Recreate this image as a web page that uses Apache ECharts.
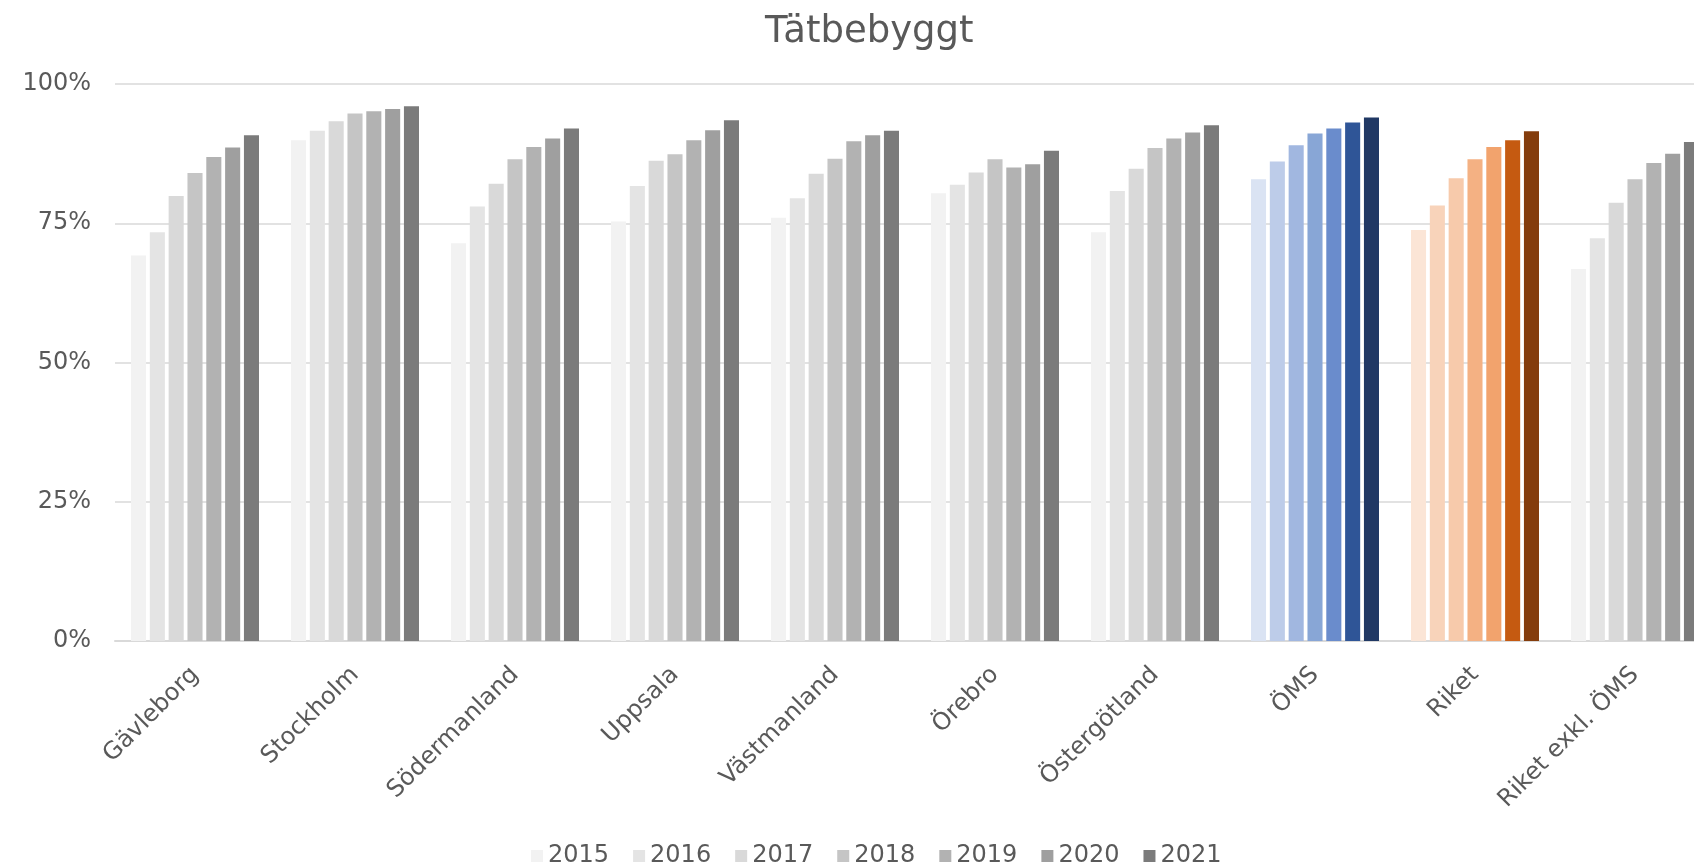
<!DOCTYPE html>
<html>
<head>
<meta charset="utf-8">
<script src="https://cdn.jsdelivr.net/npm/echarts@6/dist/echarts.min.js"></script>
<style>
html,body{margin:0;padding:0;background:#fff;overflow:hidden;width:1694px;height:863px;}
#chart{width:1760px;height:863px;}
</style>
</head>
<body>
<div id="chart"></div>
<script>
const title = 'Tätbebyggt';
const categories = ['Gävleborg','Stockholm','Södermanland','Uppsala','Västmanland','Örebro','Östergötland','ÖMS','Riket','Riket exkl. ÖMS'];
const years = ['2015','2016','2017','2018','2019','2020','2021'];
const v2015 = [69.2, 89.9, 71.4, 75.3, 76.0, 80.4, 73.4, 82.9, 73.8, 66.8];
const v2016 = [73.4, 91.6, 78.0, 81.7, 79.5, 81.9, 80.8, 86.1, 78.2, 72.3];
const v2017 = [79.9, 93.3, 82.1, 86.2, 83.9, 84.1, 84.8, 89.0, 83.1, 78.7];
const v2018 = [84.0, 94.7, 86.5, 87.4, 86.6, 86.5, 88.5, 91.1, 86.5, 82.9];
const v2019 = [86.9, 95.1, 88.7, 89.9, 89.7, 85.0, 90.2, 92.0, 88.7, 85.8];
const v2020 = [88.6, 95.5, 90.2, 91.7, 90.8, 85.6, 91.3, 93.1, 89.9, 87.5];
const v2021 = [90.8, 96.0, 92.0, 93.5, 91.6, 88.0, 92.6, 94.0, 91.5, 89.6];
const yTicks = [0, 25, 50, 75, 100];

const grayColors = ['#F2F2F2','#E4E4E4','#D9D9D9','#C5C5C5','#B2B2B2','#9F9F9F','#7B7B7B'];
const blueColors = ['#DAE3F3','#BDCCE9','#A1B7E0','#88A6D6','#6A8CCC','#2F5597','#203864'];
const orangeColors = ['#FBE5D6','#F8D3BA','#F7CAAB','#F4B183','#F2A36D','#C55A11','#843C0C'];
const seriesValues = [v2015, v2016, v2017, v2018, v2019, v2020, v2021];

const FONT = 'DejaVu Sans';
const TXT = '#595959';

const series = years.map((y, s) => ({
  name: y,
  type: 'bar',
  barCategoryGap: '20%',
  barGap: '25%',
  itemStyle: { color: grayColors[s] },
  data: seriesValues[s].map((v, i) => {
    if (categories[i] === 'ÖMS') return { value: v, itemStyle: { color: blueColors[s] } };
    if (categories[i] === 'Riket') return { value: v, itemStyle: { color: orangeColors[s] } };
    return v;
  })
}));

const chart = echarts.init(document.getElementById('chart'), null, { renderer: 'canvas' });
chart.setOption({
  animation: false,
  backgroundColor: '#fff',
  textStyle: { fontFamily: FONT },
  title: {
    text: title,
    left: 765,
    top: 14,
    padding: 0,
    textStyle: { fontFamily: FONT, fontSize: 37, fontWeight: 'normal', color: TXT }
  },
  legend: {
    data: years,
    left: 531,
    top: 844,
    padding: 0,
    icon: 'rect',
    itemWidth: 12,
    itemHeight: 12,
    itemGap: 24,
    textStyle: { fontFamily: FONT, fontSize: 24, color: TXT }
  },
  grid: { left: 115, top: 84, width: 1600, height: 557, containLabel: false },
  xAxis: {
    type: 'category',
    data: categories,
    axisLine: { show: true, lineStyle: { color: '#D9D9D9', width: 2 } },
    axisTick: { show: false },
    axisLabel: {
      rotate: 45,
      interval: 0,
      margin: 30,
      fontFamily: FONT,
      fontSize: 24,
      color: TXT
    }
  },
  yAxis: {
    type: 'value',
    min: yTicks[0],
    max: yTicks[yTicks.length - 1],
    interval: yTicks[1] - yTicks[0],
    axisLine: { show: false },
    axisTick: { show: false },
    splitLine: { lineStyle: { color: '#D9D9D9', width: 1.5 } },
    axisLabel: {
      formatter: '{value}%',
      margin: 24,
      fontFamily: FONT,
      fontSize: 24,
      color: TXT
    }
  },
  series: series
});
</script>
</body>
</html>
